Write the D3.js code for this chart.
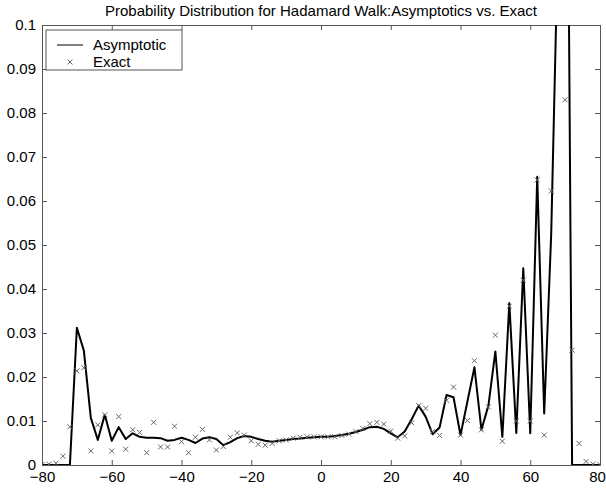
<!DOCTYPE html>
<html>
<head>
<meta charset="utf-8">
<script src="https://cdn.jsdelivr.net/npm/d3@7"></script>
<style>
body { margin: 0; background: #fff; }
text { font-family: "Liberation Sans", Arial, sans-serif; font-size: 15px; fill: #000; }
.axis path, .axis line { stroke: #555; }
</style>
</head>
<body>
<script>
// positions of the walk (even sites only)
var positions = d3.range(-80, 81, 2);

// asymptotic curve, one value per position
var asymptotic = [
  0, 0, 0, 0, 0, 0.0312, 0.026, 0.0107, 0.0057, 0.0114,
  0.0055, 0.0086, 0.0059, 0.0072, 0.0064, 0.0062, 0.0062, 0.0061, 0.0055, 0.0057,
  0.0062, 0.0057, 0.005, 0.006, 0.0063, 0.0059, 0.0045, 0.0052, 0.0061, 0.0066,
  0.0064, 0.0059, 0.0055, 0.0053, 0.0055, 0.0057, 0.0059, 0.006, 0.0062, 0.0063,
  0.0064, 0.0064, 0.0066, 0.0068, 0.0071, 0.0075, 0.008, 0.0086, 0.0087, 0.0082,
  0.0072, 0.0063, 0.0076, 0.0104, 0.0135, 0.011, 0.007, 0.0085, 0.0159, 0.0154,
  0.0068, 0.0145, 0.0222, 0.008, 0.0135, 0.0258, 0.0064, 0.0368, 0.0073, 0.0447,
  0.0072, 0.0655, 0.0117, 0.0523, 0.121, 0.226, 0, 0, 0, 0, 0
];

// exact probabilities, one value per position
var exact = [
  0.0001, 0.0002, 0.0004, 0.002, 0.0087, 0.0214, 0.0221, 0.0032, 0.0091, 0.0114,
  0.0032, 0.011, 0.0036, 0.008, 0.0074, 0.0028, 0.0097, 0.0041, 0.0041, 0.0088,
  0.0053, 0.0028, 0.0063, 0.0081, 0.0057, 0.0034, 0.0042, 0.0063, 0.0073, 0.0068,
  0.0055, 0.0047, 0.0045, 0.0049, 0.0055, 0.0057, 0.0061, 0.0063, 0.0064, 0.0064,
  0.0064, 0.0064, 0.0064, 0.0067, 0.007, 0.0076, 0.0083, 0.0094, 0.0097, 0.0093,
  0.0077, 0.0061, 0.0066, 0.0096, 0.0135, 0.0129, 0.0076, 0.0067, 0.0147, 0.0177,
  0.0068, 0.0101, 0.0237, 0.008, 0.0132, 0.0295, 0.0054, 0.0361, 0.01, 0.042,
  0.01, 0.0648, 0.0068, 0.0623, 0.12, 0.083, 0.0261, 0.0049, 0.0008, 0.0002, 0.0001
];

var xTicks = [-80, -60, -40, -20, 0, 20, 40, 60, 80];
var xTickLabels = ["\u221280", "\u221260", "\u221240", "\u221220", "0", "20", "40", "60", "80"];
var yTicks = [0, 0.01, 0.02, 0.03, 0.04, 0.05, 0.06, 0.07, 0.08, 0.09, 0.1];
var yTickLabels = ["0", "0.01", "0.02", "0.03", "0.04", "0.05", "0.06", "0.07", "0.08", "0.09", "0.1"];
var seriesNames = ["Asymptotic", "Exact"];

var w = 606,
    h = 489;
// note: "top" is a reserved window property, so use pTop etc.
var pLeft = 42, pRight = 600, pTop = 25, pBottom = 465;

var x = d3.scaleLinear().domain([-80, 80]).range([pLeft, pRight]);
var y = d3.scaleLinear().domain([0, 0.1]).range([pBottom, pTop]);

var svg = d3.select("body").append("svg")
    .attr("width", w)
    .attr("height", h);

svg.append("defs")
    .append("clipPath")
    .attr("id", "plotClip")
    .append("rect")
    .attr("x", pLeft)
    .attr("y", pTop)
    .attr("width", pRight - pLeft)
    .attr("height", pBottom - pTop);

// axes, ticks pointing inwards on all four sides
var xAxisG = svg.append("g")
    .attr("class", "axis")
    .attr("transform", "translate(0," + pBottom + ")")
    .call(d3.axisBottom(x).tickValues(xTicks)
        .tickFormat(function(d, i) { return xTickLabels[i]; })
        .tickSizeInner(-5).tickSizeOuter(0).tickPadding(6));

// keep the last label inside the window
xAxisG.selectAll(".tick text")
    .filter(function(d) { return d === 80; })
    .attr("dx", -3);

svg.append("g")
    .attr("class", "axis")
    .attr("transform", "translate(0," + pTop + ")")
    .call(d3.axisTop(x).tickValues(xTicks).tickFormat("")
        .tickSizeInner(-5).tickSizeOuter(0));

svg.append("g")
    .attr("class", "axis")
    .attr("transform", "translate(" + pLeft + ",0)")
    .call(d3.axisLeft(y).tickValues(yTicks)
        .tickFormat(function(d, i) { return yTickLabels[i]; })
        .tickSizeInner(-5).tickSizeOuter(0).tickPadding(6));

svg.append("g")
    .attr("class", "axis")
    .attr("transform", "translate(" + pRight + ",0)")
    .call(d3.axisRight(y).tickValues(yTicks).tickFormat("")
        .tickSizeInner(-5).tickSizeOuter(0));

svg.selectAll(".axis text")
    .style("font-size", "15px")
    .style("font-family", "'Liberation Sans', Arial, sans-serif")
    .attr("fill", "#000");

var plot = svg.append("g").attr("clip-path", "url(#plotClip)");

var line = d3.line()
    .x(function(d, i) { return x(positions[i]); })
    .y(function(d) { return y(d); });

plot.append("path")
    .datum(asymptotic)
    .attr("d", line)
    .attr("fill", "none")
    .attr("stroke", "#000")
    .attr("stroke-width", 2)
    .attr("stroke-linejoin", "round");

var cross = "M-2.5,-2.5L2.5,2.5M-2.5,2.5L2.5,-2.5";

plot.selectAll(".exact")
    .data(exact)
    .enter().append("path")
    .attr("class", "exact")
    .attr("d", cross)
    .attr("transform", function(d, i) { return "translate(" + x(positions[i]) + "," + y(d) + ")"; })
    .attr("stroke", "#666")
    .attr("stroke-width", 1)
    .attr("fill", "none");

svg.append("text")
    .attr("x", (pLeft + pRight) / 2)
    .attr("y", 16)
    .style("text-anchor", "middle")
    .text("Probability Distribution for Hadamard Walk:Asymptotics vs. Exact");

// legend
var legend = svg.append("g");

legend.append("rect")
    .attr("x", 46)
    .attr("y", 30)
    .attr("width", 136)
    .attr("height", 40)
    .attr("fill", "#fff")
    .attr("stroke", "#555");

legend.append("line")
    .attr("x1", 57)
    .attr("y1", 45)
    .attr("x2", 83)
    .attr("y2", 45)
    .attr("stroke", "#000")
    .attr("stroke-width", 1);

legend.append("path")
    .attr("d", cross)
    .attr("transform", "translate(70,62)")
    .attr("stroke", "#666")
    .attr("fill", "none");

legend.selectAll(".legtext")
    .data(seriesNames)
    .enter().append("text")
    .attr("x", 93)
    .attr("y", function(d, i) { return 50 + i * 17; })
    .text(function(d) { return d; });
</script>
</body>
</html>
